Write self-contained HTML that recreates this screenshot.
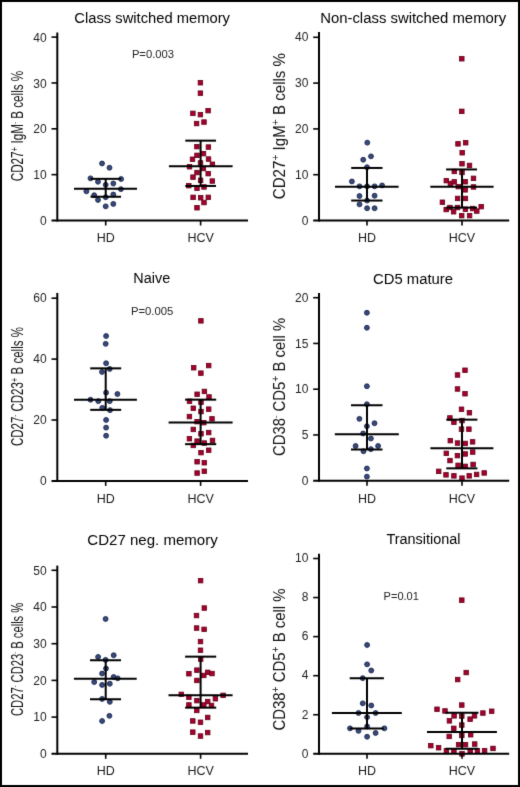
<!DOCTYPE html><html><head><meta charset="utf-8"><style>html,body{margin:0;padding:0;background:#fff;}svg{display:block;}text{font-family:"Liberation Sans", sans-serif;}</style></head><body>
<svg width="520" height="787" viewBox="0 0 520 787">
<rect x="0" y="0" width="520" height="787" fill="#fff"/>
<defs><filter id="soft" x="0" y="0" width="520" height="787" filterUnits="userSpaceOnUse" color-interpolation-filters="sRGB"><feConvolveMatrix order="3" kernelMatrix="0.01000 0.08000 0.01000 0.08000 0.64000 0.08000 0.01000 0.08000 0.01000" divisor="1" edgeMode="duplicate" preserveAlpha="false"/></filter></defs>
<g filter="url(#soft)">
<rect x="1" y="1" width="518" height="785" fill="none" stroke="#000" stroke-width="2"/>
<text x="74.30" y="22.6" font-size="15.3" textLength="155.7" lengthAdjust="spacingAndGlyphs" fill="#000">Class switched memory</text>
<text x="320.20" y="22.7" font-size="15.3" textLength="186.0" lengthAdjust="spacingAndGlyphs" fill="#000">Non-class switched memory</text>
<text x="133.30" y="283.3" font-size="15.3" textLength="36.9" lengthAdjust="spacingAndGlyphs" fill="#000">Naive</text>
<text x="373.00" y="283.8" font-size="15.3" textLength="80.0" lengthAdjust="spacingAndGlyphs" fill="#000">CD5 mature</text>
<text x="87.30" y="544.5" font-size="15.3" textLength="130.4" lengthAdjust="spacingAndGlyphs" fill="#000">CD27 neg. memory</text>
<text x="386.50" y="544.0" font-size="15.3" textLength="74.0" lengthAdjust="spacingAndGlyphs" fill="#000">Transitional</text>
<text x="131.90" y="58.4" font-size="11.5" textLength="42.1" lengthAdjust="spacingAndGlyphs" fill="#222">P=0.003</text>
<text x="130.90" y="315.1" font-size="11.5" textLength="42.4" lengthAdjust="spacingAndGlyphs" fill="#222">P=0.005</text>
<text x="383.60" y="599.8" font-size="11.5" textLength="35.3" lengthAdjust="spacingAndGlyphs" fill="#222">P=0.01</text>
<text transform="translate(23.2,181.3) rotate(-90) scale(0.7450,1)" x="0" y="0" font-size="15.7" fill="#111" xml:space="preserve"><tspan font-size="15.70" dy="0.00">CD27</tspan><tspan font-size="10.68" dy="-5.65">+</tspan><tspan font-size="15.70" dy="5.65"> IgM</tspan><tspan font-size="7.85" dy="-6.59">-</tspan><tspan font-size="15.70" dy="6.59"> B cells %</tspan></text>
<text transform="translate(285.2,199.2) rotate(-90) scale(0.9439,1)" x="0" y="0" font-size="16" fill="#111" xml:space="preserve"><tspan font-size="16.00" dy="0.00">CD27</tspan><tspan font-size="10.88" dy="-5.76">+</tspan><tspan font-size="16.00" dy="5.76"> IgM</tspan><tspan font-size="10.88" dy="-5.76">+</tspan><tspan font-size="16.00" dy="5.76"> B cells %</tspan></text>
<text transform="translate(23.2,446.0) rotate(-90) scale(0.7320,1)" x="0" y="0" font-size="15.7" fill="#111" xml:space="preserve"><tspan font-size="15.70" dy="0.00">CD27</tspan><tspan font-size="7.85" dy="-6.59">-</tspan><tspan font-size="15.70" dy="6.59"> CD23</tspan><tspan font-size="10.68" dy="-5.65">+</tspan><tspan font-size="15.70" dy="5.65"> B cells %</tspan></text>
<text transform="translate(285.2,456.0) rotate(-90) scale(0.9298,1)" x="0" y="0" font-size="16" fill="#111" xml:space="preserve"><tspan font-size="16.00" dy="0.00">CD38</tspan><tspan font-size="8.00" dy="-6.72">-</tspan><tspan font-size="16.00" dy="6.72"> CD5</tspan><tspan font-size="10.88" dy="-5.76">+</tspan><tspan font-size="16.00" dy="5.76"> B cell %</tspan></text>
<text transform="translate(23.2,716.0) rotate(-90) scale(0.7141,1)" x="0" y="0" font-size="15.7" fill="#111" xml:space="preserve"><tspan font-size="15.70" dy="0.00">CD27</tspan><tspan font-size="7.85" dy="-6.59">-</tspan><tspan font-size="15.70" dy="6.59"> CD23</tspan><tspan font-size="7.85" dy="-6.59">-</tspan><tspan font-size="15.70" dy="6.59"> B cells %</tspan></text>
<text transform="translate(285.2,730.6) rotate(-90) scale(0.9341,1)" x="0" y="0" font-size="16" fill="#111" xml:space="preserve"><tspan font-size="16.00" dy="0.00">CD38</tspan><tspan font-size="10.88" dy="-5.76">+</tspan><tspan font-size="16.00" dy="5.76"> CD5</tspan><tspan font-size="10.88" dy="-5.76">+</tspan><tspan font-size="16.00" dy="5.76"> B cell %</tspan></text>
<circle cx="102.05" cy="163.45" r="2.45" fill="#384a78" stroke="#1b254e" stroke-width="0.9"/>
<circle cx="109.5" cy="167.75" r="2.45" fill="#384a78" stroke="#1b254e" stroke-width="0.9"/>
<circle cx="90.5" cy="178.35" r="2.45" fill="#384a78" stroke="#1b254e" stroke-width="0.9"/>
<circle cx="121.1" cy="179.05" r="2.45" fill="#384a78" stroke="#1b254e" stroke-width="0.9"/>
<circle cx="98.0" cy="181.75" r="2.45" fill="#384a78" stroke="#1b254e" stroke-width="0.9"/>
<circle cx="113.3" cy="183.55" r="2.45" fill="#384a78" stroke="#1b254e" stroke-width="0.9"/>
<circle cx="105.7" cy="184.85" r="2.45" fill="#384a78" stroke="#1b254e" stroke-width="0.9"/>
<circle cx="120.9" cy="189.15" r="2.45" fill="#384a78" stroke="#1b254e" stroke-width="0.9"/>
<circle cx="86.4" cy="191.35" r="2.45" fill="#384a78" stroke="#1b254e" stroke-width="0.9"/>
<circle cx="94.2" cy="195.25" r="2.45" fill="#384a78" stroke="#1b254e" stroke-width="0.9"/>
<circle cx="113.3" cy="194.55" r="2.45" fill="#384a78" stroke="#1b254e" stroke-width="0.9"/>
<circle cx="105.7" cy="197.25" r="2.45" fill="#384a78" stroke="#1b254e" stroke-width="0.9"/>
<circle cx="98.0" cy="199.95" r="2.45" fill="#384a78" stroke="#1b254e" stroke-width="0.9"/>
<circle cx="105.7" cy="206.35" r="2.45" fill="#384a78" stroke="#1b254e" stroke-width="0.9"/>
<circle cx="113.3" cy="203.95" r="2.45" fill="#384a78" stroke="#1b254e" stroke-width="0.9"/>
<rect x="198.15" y="80.50" width="4.50" height="4.50" fill="#a6002f" stroke="#600016" stroke-width="0.8"/>
<rect x="198.15" y="90.90" width="4.50" height="4.50" fill="#a6002f" stroke="#600016" stroke-width="0.8"/>
<rect x="205.85" y="108.40" width="4.50" height="4.50" fill="#a6002f" stroke="#600016" stroke-width="0.8"/>
<rect x="190.65" y="111.10" width="4.50" height="4.50" fill="#a6002f" stroke="#600016" stroke-width="0.8"/>
<rect x="198.15" y="112.40" width="4.50" height="4.50" fill="#a6002f" stroke="#600016" stroke-width="0.8"/>
<rect x="194.35" y="121.30" width="4.50" height="4.50" fill="#a6002f" stroke="#600016" stroke-width="0.8"/>
<rect x="201.75" y="119.80" width="4.50" height="4.50" fill="#a6002f" stroke="#600016" stroke-width="0.8"/>
<rect x="194.65" y="144.40" width="4.50" height="4.50" fill="#a6002f" stroke="#600016" stroke-width="0.8"/>
<rect x="206.15" y="144.80" width="4.50" height="4.50" fill="#a6002f" stroke="#600016" stroke-width="0.8"/>
<rect x="201.25" y="151.40" width="4.50" height="4.50" fill="#a6002f" stroke="#600016" stroke-width="0.8"/>
<rect x="194.75" y="153.10" width="4.50" height="4.50" fill="#a6002f" stroke="#600016" stroke-width="0.8"/>
<rect x="190.25" y="157.00" width="4.50" height="4.50" fill="#a6002f" stroke="#600016" stroke-width="0.8"/>
<rect x="206.25" y="156.80" width="4.50" height="4.50" fill="#a6002f" stroke="#600016" stroke-width="0.8"/>
<rect x="198.25" y="160.70" width="4.50" height="4.50" fill="#a6002f" stroke="#600016" stroke-width="0.8"/>
<rect x="210.15" y="162.00" width="4.50" height="4.50" fill="#a6002f" stroke="#600016" stroke-width="0.8"/>
<rect x="187.25" y="164.50" width="4.50" height="4.50" fill="#a6002f" stroke="#600016" stroke-width="0.8"/>
<rect x="201.15" y="166.30" width="4.50" height="4.50" fill="#a6002f" stroke="#600016" stroke-width="0.8"/>
<rect x="194.75" y="170.30" width="4.50" height="4.50" fill="#a6002f" stroke="#600016" stroke-width="0.8"/>
<rect x="205.95" y="171.40" width="4.50" height="4.50" fill="#a6002f" stroke="#600016" stroke-width="0.8"/>
<rect x="190.75" y="174.90" width="4.50" height="4.50" fill="#a6002f" stroke="#600016" stroke-width="0.8"/>
<rect x="198.35" y="178.10" width="4.50" height="4.50" fill="#a6002f" stroke="#600016" stroke-width="0.8"/>
<rect x="210.05" y="178.80" width="4.50" height="4.50" fill="#a6002f" stroke="#600016" stroke-width="0.8"/>
<rect x="186.55" y="183.40" width="4.50" height="4.50" fill="#a6002f" stroke="#600016" stroke-width="0.8"/>
<rect x="194.75" y="186.00" width="4.50" height="4.50" fill="#a6002f" stroke="#600016" stroke-width="0.8"/>
<rect x="201.75" y="184.70" width="4.50" height="4.50" fill="#a6002f" stroke="#600016" stroke-width="0.8"/>
<rect x="190.85" y="195.10" width="4.50" height="4.50" fill="#a6002f" stroke="#600016" stroke-width="0.8"/>
<rect x="198.45" y="195.50" width="4.50" height="4.50" fill="#a6002f" stroke="#600016" stroke-width="0.8"/>
<rect x="206.05" y="195.10" width="4.50" height="4.50" fill="#a6002f" stroke="#600016" stroke-width="0.8"/>
<rect x="201.75" y="200.30" width="4.50" height="4.50" fill="#a6002f" stroke="#600016" stroke-width="0.8"/>
<rect x="194.75" y="205.50" width="4.50" height="4.50" fill="#a6002f" stroke="#600016" stroke-width="0.8"/>
<circle cx="367.3" cy="142.65" r="2.45" fill="#384a78" stroke="#1b254e" stroke-width="0.9"/>
<circle cx="371.0" cy="156.35" r="2.45" fill="#384a78" stroke="#1b254e" stroke-width="0.9"/>
<circle cx="363.2" cy="159.75" r="2.45" fill="#384a78" stroke="#1b254e" stroke-width="0.9"/>
<circle cx="367.0" cy="167.25" r="2.45" fill="#384a78" stroke="#1b254e" stroke-width="0.9"/>
<circle cx="351.9" cy="181.45" r="2.45" fill="#384a78" stroke="#1b254e" stroke-width="0.9"/>
<circle cx="359.5" cy="186.35" r="2.45" fill="#384a78" stroke="#1b254e" stroke-width="0.9"/>
<circle cx="367.1" cy="186.35" r="2.45" fill="#384a78" stroke="#1b254e" stroke-width="0.9"/>
<circle cx="374.6" cy="186.35" r="2.45" fill="#384a78" stroke="#1b254e" stroke-width="0.9"/>
<circle cx="382.1" cy="185.45" r="2.45" fill="#384a78" stroke="#1b254e" stroke-width="0.9"/>
<circle cx="359.5" cy="196.05" r="2.45" fill="#384a78" stroke="#1b254e" stroke-width="0.9"/>
<circle cx="374.6" cy="195.75" r="2.45" fill="#384a78" stroke="#1b254e" stroke-width="0.9"/>
<circle cx="367.1" cy="200.55" r="2.45" fill="#384a78" stroke="#1b254e" stroke-width="0.9"/>
<circle cx="359.5" cy="204.35" r="2.45" fill="#384a78" stroke="#1b254e" stroke-width="0.9"/>
<circle cx="367.1" cy="208.25" r="2.45" fill="#384a78" stroke="#1b254e" stroke-width="0.9"/>
<circle cx="374.6" cy="208.25" r="2.45" fill="#384a78" stroke="#1b254e" stroke-width="0.9"/>
<rect x="459.55" y="56.50" width="4.50" height="4.50" fill="#a6002f" stroke="#600016" stroke-width="0.8"/>
<rect x="459.55" y="109.10" width="4.50" height="4.50" fill="#a6002f" stroke="#600016" stroke-width="0.8"/>
<rect x="455.75" y="141.60" width="4.50" height="4.50" fill="#a6002f" stroke="#600016" stroke-width="0.8"/>
<rect x="463.45" y="140.50" width="4.50" height="4.50" fill="#a6002f" stroke="#600016" stroke-width="0.8"/>
<rect x="459.95" y="150.50" width="4.50" height="4.50" fill="#a6002f" stroke="#600016" stroke-width="0.8"/>
<rect x="459.75" y="161.50" width="4.50" height="4.50" fill="#a6002f" stroke="#600016" stroke-width="0.8"/>
<rect x="467.25" y="163.20" width="4.50" height="4.50" fill="#a6002f" stroke="#600016" stroke-width="0.8"/>
<rect x="452.05" y="169.20" width="4.50" height="4.50" fill="#a6002f" stroke="#600016" stroke-width="0.8"/>
<rect x="459.75" y="170.20" width="4.50" height="4.50" fill="#a6002f" stroke="#600016" stroke-width="0.8"/>
<rect x="471.25" y="176.10" width="4.50" height="4.50" fill="#a6002f" stroke="#600016" stroke-width="0.8"/>
<rect x="444.05" y="178.40" width="4.50" height="4.50" fill="#a6002f" stroke="#600016" stroke-width="0.8"/>
<rect x="448.15" y="181.20" width="4.50" height="4.50" fill="#a6002f" stroke="#600016" stroke-width="0.8"/>
<rect x="452.05" y="179.60" width="4.50" height="4.50" fill="#a6002f" stroke="#600016" stroke-width="0.8"/>
<rect x="462.95" y="179.50" width="4.50" height="4.50" fill="#a6002f" stroke="#600016" stroke-width="0.8"/>
<rect x="456.05" y="184.40" width="4.50" height="4.50" fill="#a6002f" stroke="#600016" stroke-width="0.8"/>
<rect x="462.95" y="187.60" width="4.50" height="4.50" fill="#a6002f" stroke="#600016" stroke-width="0.8"/>
<rect x="471.25" y="184.70" width="4.50" height="4.50" fill="#a6002f" stroke="#600016" stroke-width="0.8"/>
<rect x="455.35" y="196.20" width="4.50" height="4.50" fill="#a6002f" stroke="#600016" stroke-width="0.8"/>
<rect x="463.15" y="196.20" width="4.50" height="4.50" fill="#a6002f" stroke="#600016" stroke-width="0.8"/>
<rect x="440.15" y="200.00" width="4.50" height="4.50" fill="#a6002f" stroke="#600016" stroke-width="0.8"/>
<rect x="443.95" y="207.30" width="4.50" height="4.50" fill="#a6002f" stroke="#600016" stroke-width="0.8"/>
<rect x="447.65" y="205.30" width="4.50" height="4.50" fill="#a6002f" stroke="#600016" stroke-width="0.8"/>
<rect x="451.35" y="209.50" width="4.50" height="4.50" fill="#a6002f" stroke="#600016" stroke-width="0.8"/>
<rect x="455.25" y="205.30" width="4.50" height="4.50" fill="#a6002f" stroke="#600016" stroke-width="0.8"/>
<rect x="463.15" y="207.00" width="4.50" height="4.50" fill="#a6002f" stroke="#600016" stroke-width="0.8"/>
<rect x="470.45" y="206.30" width="4.50" height="4.50" fill="#a6002f" stroke="#600016" stroke-width="0.8"/>
<rect x="474.55" y="208.80" width="4.50" height="4.50" fill="#a6002f" stroke="#600016" stroke-width="0.8"/>
<rect x="478.95" y="204.40" width="4.50" height="4.50" fill="#a6002f" stroke="#600016" stroke-width="0.8"/>
<rect x="459.45" y="213.40" width="4.50" height="4.50" fill="#a6002f" stroke="#600016" stroke-width="0.8"/>
<rect x="467.35" y="213.40" width="4.50" height="4.50" fill="#a6002f" stroke="#600016" stroke-width="0.8"/>
<circle cx="106.1" cy="336.05" r="2.45" fill="#384a78" stroke="#1b254e" stroke-width="0.9"/>
<circle cx="105.7" cy="343.85" r="2.45" fill="#384a78" stroke="#1b254e" stroke-width="0.9"/>
<circle cx="106.1" cy="363.25" r="2.45" fill="#384a78" stroke="#1b254e" stroke-width="0.9"/>
<circle cx="109.7" cy="368.95" r="2.45" fill="#384a78" stroke="#1b254e" stroke-width="0.9"/>
<circle cx="102.0" cy="371.95" r="2.45" fill="#384a78" stroke="#1b254e" stroke-width="0.9"/>
<circle cx="106.1" cy="392.65" r="2.45" fill="#384a78" stroke="#1b254e" stroke-width="0.9"/>
<circle cx="117.4" cy="394.05" r="2.45" fill="#384a78" stroke="#1b254e" stroke-width="0.9"/>
<circle cx="90.5" cy="399.75" r="2.45" fill="#384a78" stroke="#1b254e" stroke-width="0.9"/>
<circle cx="98.3" cy="401.15" r="2.45" fill="#384a78" stroke="#1b254e" stroke-width="0.9"/>
<circle cx="109.7" cy="401.15" r="2.45" fill="#384a78" stroke="#1b254e" stroke-width="0.9"/>
<circle cx="102.3" cy="407.85" r="2.45" fill="#384a78" stroke="#1b254e" stroke-width="0.9"/>
<circle cx="110.0" cy="410.15" r="2.45" fill="#384a78" stroke="#1b254e" stroke-width="0.9"/>
<circle cx="106.1" cy="419.95" r="2.45" fill="#384a78" stroke="#1b254e" stroke-width="0.9"/>
<circle cx="106.1" cy="427.65" r="2.45" fill="#384a78" stroke="#1b254e" stroke-width="0.9"/>
<circle cx="106.1" cy="435.75" r="2.45" fill="#384a78" stroke="#1b254e" stroke-width="0.9"/>
<rect x="198.65" y="318.60" width="4.50" height="4.50" fill="#a6002f" stroke="#600016" stroke-width="0.8"/>
<rect x="206.45" y="363.30" width="4.50" height="4.50" fill="#a6002f" stroke="#600016" stroke-width="0.8"/>
<rect x="191.45" y="365.50" width="4.50" height="4.50" fill="#a6002f" stroke="#600016" stroke-width="0.8"/>
<rect x="198.65" y="370.90" width="4.50" height="4.50" fill="#a6002f" stroke="#600016" stroke-width="0.8"/>
<rect x="194.85" y="392.00" width="4.50" height="4.50" fill="#a6002f" stroke="#600016" stroke-width="0.8"/>
<rect x="202.15" y="389.20" width="4.50" height="4.50" fill="#a6002f" stroke="#600016" stroke-width="0.8"/>
<rect x="206.75" y="394.70" width="4.50" height="4.50" fill="#a6002f" stroke="#600016" stroke-width="0.8"/>
<rect x="187.25" y="399.00" width="4.50" height="4.50" fill="#a6002f" stroke="#600016" stroke-width="0.8"/>
<rect x="198.75" y="400.00" width="4.50" height="4.50" fill="#a6002f" stroke="#600016" stroke-width="0.8"/>
<rect x="191.05" y="406.00" width="4.50" height="4.50" fill="#a6002f" stroke="#600016" stroke-width="0.8"/>
<rect x="206.45" y="406.90" width="4.50" height="4.50" fill="#a6002f" stroke="#600016" stroke-width="0.8"/>
<rect x="198.75" y="409.30" width="4.50" height="4.50" fill="#a6002f" stroke="#600016" stroke-width="0.8"/>
<rect x="187.15" y="414.30" width="4.50" height="4.50" fill="#a6002f" stroke="#600016" stroke-width="0.8"/>
<rect x="209.75" y="416.60" width="4.50" height="4.50" fill="#a6002f" stroke="#600016" stroke-width="0.8"/>
<rect x="194.85" y="419.40" width="4.50" height="4.50" fill="#a6002f" stroke="#600016" stroke-width="0.8"/>
<rect x="201.55" y="420.40" width="4.50" height="4.50" fill="#a6002f" stroke="#600016" stroke-width="0.8"/>
<rect x="191.05" y="427.20" width="4.50" height="4.50" fill="#a6002f" stroke="#600016" stroke-width="0.8"/>
<rect x="206.45" y="430.30" width="4.50" height="4.50" fill="#a6002f" stroke="#600016" stroke-width="0.8"/>
<rect x="198.75" y="431.50" width="4.50" height="4.50" fill="#a6002f" stroke="#600016" stroke-width="0.8"/>
<rect x="187.15" y="436.50" width="4.50" height="4.50" fill="#a6002f" stroke="#600016" stroke-width="0.8"/>
<rect x="194.85" y="438.90" width="4.50" height="4.50" fill="#a6002f" stroke="#600016" stroke-width="0.8"/>
<rect x="210.25" y="438.20" width="4.50" height="4.50" fill="#a6002f" stroke="#600016" stroke-width="0.8"/>
<rect x="191.05" y="443.20" width="4.50" height="4.50" fill="#a6002f" stroke="#600016" stroke-width="0.8"/>
<rect x="202.05" y="440.80" width="4.50" height="4.50" fill="#a6002f" stroke="#600016" stroke-width="0.8"/>
<rect x="206.45" y="448.00" width="4.50" height="4.50" fill="#a6002f" stroke="#600016" stroke-width="0.8"/>
<rect x="198.75" y="450.40" width="4.50" height="4.50" fill="#a6002f" stroke="#600016" stroke-width="0.8"/>
<rect x="194.85" y="459.50" width="4.50" height="4.50" fill="#a6002f" stroke="#600016" stroke-width="0.8"/>
<rect x="202.05" y="460.50" width="4.50" height="4.50" fill="#a6002f" stroke="#600016" stroke-width="0.8"/>
<rect x="194.85" y="470.80" width="4.50" height="4.50" fill="#a6002f" stroke="#600016" stroke-width="0.8"/>
<rect x="202.05" y="469.00" width="4.50" height="4.50" fill="#a6002f" stroke="#600016" stroke-width="0.8"/>
<circle cx="366.9" cy="312.75" r="2.45" fill="#384a78" stroke="#1b254e" stroke-width="0.9"/>
<circle cx="366.9" cy="327.75" r="2.45" fill="#384a78" stroke="#1b254e" stroke-width="0.9"/>
<circle cx="366.9" cy="386.25" r="2.45" fill="#384a78" stroke="#1b254e" stroke-width="0.9"/>
<circle cx="366.9" cy="404.25" r="2.45" fill="#384a78" stroke="#1b254e" stroke-width="0.9"/>
<circle cx="359.4" cy="418.85" r="2.45" fill="#384a78" stroke="#1b254e" stroke-width="0.9"/>
<circle cx="374.5" cy="423.25" r="2.45" fill="#384a78" stroke="#1b254e" stroke-width="0.9"/>
<circle cx="366.9" cy="426.25" r="2.45" fill="#384a78" stroke="#1b254e" stroke-width="0.9"/>
<circle cx="363.1" cy="433.50" r="2.45" fill="#384a78" stroke="#1b254e" stroke-width="0.9"/>
<circle cx="370.9" cy="438.50" r="2.45" fill="#384a78" stroke="#1b254e" stroke-width="0.9"/>
<circle cx="355.6" cy="446.00" r="2.45" fill="#384a78" stroke="#1b254e" stroke-width="0.9"/>
<circle cx="378.1" cy="446.00" r="2.45" fill="#384a78" stroke="#1b254e" stroke-width="0.9"/>
<circle cx="363.5" cy="451.25" r="2.45" fill="#384a78" stroke="#1b254e" stroke-width="0.9"/>
<circle cx="370.9" cy="449.15" r="2.45" fill="#384a78" stroke="#1b254e" stroke-width="0.9"/>
<circle cx="366.9" cy="468.50" r="2.45" fill="#384a78" stroke="#1b254e" stroke-width="0.9"/>
<circle cx="366.9" cy="476.65" r="2.45" fill="#384a78" stroke="#1b254e" stroke-width="0.9"/>
<rect x="462.75" y="368.00" width="4.50" height="4.50" fill="#a6002f" stroke="#600016" stroke-width="0.8"/>
<rect x="455.25" y="372.75" width="4.50" height="4.50" fill="#a6002f" stroke="#600016" stroke-width="0.8"/>
<rect x="455.25" y="386.75" width="4.50" height="4.50" fill="#a6002f" stroke="#600016" stroke-width="0.8"/>
<rect x="462.75" y="391.50" width="4.50" height="4.50" fill="#a6002f" stroke="#600016" stroke-width="0.8"/>
<rect x="459.25" y="407.00" width="4.50" height="4.50" fill="#a6002f" stroke="#600016" stroke-width="0.8"/>
<rect x="467.15" y="410.50" width="4.50" height="4.50" fill="#a6002f" stroke="#600016" stroke-width="0.8"/>
<rect x="447.65" y="415.70" width="4.50" height="4.50" fill="#a6002f" stroke="#600016" stroke-width="0.8"/>
<rect x="451.65" y="420.00" width="4.50" height="4.50" fill="#a6002f" stroke="#600016" stroke-width="0.8"/>
<rect x="459.75" y="418.30" width="4.50" height="4.50" fill="#a6002f" stroke="#600016" stroke-width="0.8"/>
<rect x="459.25" y="426.90" width="4.50" height="4.50" fill="#a6002f" stroke="#600016" stroke-width="0.8"/>
<rect x="466.65" y="426.90" width="4.50" height="4.50" fill="#a6002f" stroke="#600016" stroke-width="0.8"/>
<rect x="448.05" y="438.40" width="4.50" height="4.50" fill="#a6002f" stroke="#600016" stroke-width="0.8"/>
<rect x="455.25" y="440.80" width="4.50" height="4.50" fill="#a6002f" stroke="#600016" stroke-width="0.8"/>
<rect x="462.95" y="441.20" width="4.50" height="4.50" fill="#a6002f" stroke="#600016" stroke-width="0.8"/>
<rect x="470.35" y="439.60" width="4.50" height="4.50" fill="#a6002f" stroke="#600016" stroke-width="0.8"/>
<rect x="444.05" y="451.10" width="4.50" height="4.50" fill="#a6002f" stroke="#600016" stroke-width="0.8"/>
<rect x="455.15" y="453.40" width="4.50" height="4.50" fill="#a6002f" stroke="#600016" stroke-width="0.8"/>
<rect x="463.05" y="451.70" width="4.50" height="4.50" fill="#a6002f" stroke="#600016" stroke-width="0.8"/>
<rect x="470.45" y="449.80" width="4.50" height="4.50" fill="#a6002f" stroke="#600016" stroke-width="0.8"/>
<rect x="447.75" y="458.30" width="4.50" height="4.50" fill="#a6002f" stroke="#600016" stroke-width="0.8"/>
<rect x="455.85" y="463.10" width="4.50" height="4.50" fill="#a6002f" stroke="#600016" stroke-width="0.8"/>
<rect x="463.05" y="464.10" width="4.50" height="4.50" fill="#a6002f" stroke="#600016" stroke-width="0.8"/>
<rect x="470.85" y="462.20" width="4.50" height="4.50" fill="#a6002f" stroke="#600016" stroke-width="0.8"/>
<rect x="436.45" y="469.10" width="4.50" height="4.50" fill="#a6002f" stroke="#600016" stroke-width="0.8"/>
<rect x="443.75" y="472.60" width="4.50" height="4.50" fill="#a6002f" stroke="#600016" stroke-width="0.8"/>
<rect x="451.65" y="473.60" width="4.50" height="4.50" fill="#a6002f" stroke="#600016" stroke-width="0.8"/>
<rect x="459.75" y="475.90" width="4.50" height="4.50" fill="#a6002f" stroke="#600016" stroke-width="0.8"/>
<rect x="466.95" y="473.60" width="4.50" height="4.50" fill="#a6002f" stroke="#600016" stroke-width="0.8"/>
<rect x="474.35" y="472.20" width="4.50" height="4.50" fill="#a6002f" stroke="#600016" stroke-width="0.8"/>
<rect x="481.95" y="470.70" width="4.50" height="4.50" fill="#a6002f" stroke="#600016" stroke-width="0.8"/>
<circle cx="105.6" cy="618.95" r="2.45" fill="#384a78" stroke="#1b254e" stroke-width="0.9"/>
<circle cx="98.1" cy="656.95" r="2.45" fill="#384a78" stroke="#1b254e" stroke-width="0.9"/>
<circle cx="113.7" cy="655.25" r="2.45" fill="#384a78" stroke="#1b254e" stroke-width="0.9"/>
<circle cx="105.6" cy="659.85" r="2.45" fill="#384a78" stroke="#1b254e" stroke-width="0.9"/>
<circle cx="106.0" cy="668.55" r="2.45" fill="#384a78" stroke="#1b254e" stroke-width="0.9"/>
<circle cx="102.1" cy="673.55" r="2.45" fill="#384a78" stroke="#1b254e" stroke-width="0.9"/>
<circle cx="113.6" cy="677.05" r="2.45" fill="#384a78" stroke="#1b254e" stroke-width="0.9"/>
<circle cx="117.7" cy="678.35" r="2.45" fill="#384a78" stroke="#1b254e" stroke-width="0.9"/>
<circle cx="94.2" cy="682.05" r="2.45" fill="#384a78" stroke="#1b254e" stroke-width="0.9"/>
<circle cx="102.1" cy="684.95" r="2.45" fill="#384a78" stroke="#1b254e" stroke-width="0.9"/>
<circle cx="109.8" cy="683.75" r="2.45" fill="#384a78" stroke="#1b254e" stroke-width="0.9"/>
<circle cx="102.1" cy="698.95" r="2.45" fill="#384a78" stroke="#1b254e" stroke-width="0.9"/>
<circle cx="109.8" cy="701.85" r="2.45" fill="#384a78" stroke="#1b254e" stroke-width="0.9"/>
<circle cx="109.4" cy="715.85" r="2.45" fill="#384a78" stroke="#1b254e" stroke-width="0.9"/>
<circle cx="102.1" cy="721.05" r="2.45" fill="#384a78" stroke="#1b254e" stroke-width="0.9"/>
<rect x="198.35" y="578.40" width="4.50" height="4.50" fill="#a6002f" stroke="#600016" stroke-width="0.8"/>
<rect x="202.05" y="605.80" width="4.50" height="4.50" fill="#a6002f" stroke="#600016" stroke-width="0.8"/>
<rect x="194.25" y="613.30" width="4.50" height="4.50" fill="#a6002f" stroke="#600016" stroke-width="0.8"/>
<rect x="194.35" y="625.80" width="4.50" height="4.50" fill="#a6002f" stroke="#600016" stroke-width="0.8"/>
<rect x="201.85" y="627.10" width="4.50" height="4.50" fill="#a6002f" stroke="#600016" stroke-width="0.8"/>
<rect x="198.25" y="639.30" width="4.50" height="4.50" fill="#a6002f" stroke="#600016" stroke-width="0.8"/>
<rect x="198.25" y="648.00" width="4.50" height="4.50" fill="#a6002f" stroke="#600016" stroke-width="0.8"/>
<rect x="198.45" y="656.80" width="4.50" height="4.50" fill="#a6002f" stroke="#600016" stroke-width="0.8"/>
<rect x="194.65" y="667.90" width="4.50" height="4.50" fill="#a6002f" stroke="#600016" stroke-width="0.8"/>
<rect x="186.65" y="671.50" width="4.50" height="4.50" fill="#a6002f" stroke="#600016" stroke-width="0.8"/>
<rect x="201.55" y="673.20" width="4.50" height="4.50" fill="#a6002f" stroke="#600016" stroke-width="0.8"/>
<rect x="205.45" y="670.10" width="4.50" height="4.50" fill="#a6002f" stroke="#600016" stroke-width="0.8"/>
<rect x="209.75" y="671.30" width="4.50" height="4.50" fill="#a6002f" stroke="#600016" stroke-width="0.8"/>
<rect x="194.65" y="678.20" width="4.50" height="4.50" fill="#a6002f" stroke="#600016" stroke-width="0.8"/>
<rect x="179.05" y="692.10" width="4.50" height="4.50" fill="#a6002f" stroke="#600016" stroke-width="0.8"/>
<rect x="220.85" y="693.10" width="4.50" height="4.50" fill="#a6002f" stroke="#600016" stroke-width="0.8"/>
<rect x="186.65" y="695.00" width="4.50" height="4.50" fill="#a6002f" stroke="#600016" stroke-width="0.8"/>
<rect x="194.65" y="698.40" width="4.50" height="4.50" fill="#a6002f" stroke="#600016" stroke-width="0.8"/>
<rect x="213.15" y="696.50" width="4.50" height="4.50" fill="#a6002f" stroke="#600016" stroke-width="0.8"/>
<rect x="205.45" y="699.30" width="4.50" height="4.50" fill="#a6002f" stroke="#600016" stroke-width="0.8"/>
<rect x="201.55" y="702.70" width="4.50" height="4.50" fill="#a6002f" stroke="#600016" stroke-width="0.8"/>
<rect x="186.65" y="702.70" width="4.50" height="4.50" fill="#a6002f" stroke="#600016" stroke-width="0.8"/>
<rect x="209.25" y="703.20" width="4.50" height="4.50" fill="#a6002f" stroke="#600016" stroke-width="0.8"/>
<rect x="194.55" y="708.20" width="4.50" height="4.50" fill="#a6002f" stroke="#600016" stroke-width="0.8"/>
<rect x="205.45" y="715.20" width="4.50" height="4.50" fill="#a6002f" stroke="#600016" stroke-width="0.8"/>
<rect x="190.55" y="718.70" width="4.50" height="4.50" fill="#a6002f" stroke="#600016" stroke-width="0.8"/>
<rect x="198.25" y="720.00" width="4.50" height="4.50" fill="#a6002f" stroke="#600016" stroke-width="0.8"/>
<rect x="190.55" y="729.90" width="4.50" height="4.50" fill="#a6002f" stroke="#600016" stroke-width="0.8"/>
<rect x="205.45" y="730.30" width="4.50" height="4.50" fill="#a6002f" stroke="#600016" stroke-width="0.8"/>
<rect x="198.25" y="733.80" width="4.50" height="4.50" fill="#a6002f" stroke="#600016" stroke-width="0.8"/>
<circle cx="367.1" cy="645.00" r="2.45" fill="#384a78" stroke="#1b254e" stroke-width="0.9"/>
<circle cx="367.1" cy="664.35" r="2.45" fill="#384a78" stroke="#1b254e" stroke-width="0.9"/>
<circle cx="371.25" cy="670.50" r="2.45" fill="#384a78" stroke="#1b254e" stroke-width="0.9"/>
<circle cx="362.75" cy="678.15" r="2.45" fill="#384a78" stroke="#1b254e" stroke-width="0.9"/>
<circle cx="362.75" cy="703.35" r="2.45" fill="#384a78" stroke="#1b254e" stroke-width="0.9"/>
<circle cx="371.25" cy="705.50" r="2.45" fill="#384a78" stroke="#1b254e" stroke-width="0.9"/>
<circle cx="358.5" cy="713.00" r="2.45" fill="#384a78" stroke="#1b254e" stroke-width="0.9"/>
<circle cx="375.6" cy="713.00" r="2.45" fill="#384a78" stroke="#1b254e" stroke-width="0.9"/>
<circle cx="367.1" cy="717.15" r="2.45" fill="#384a78" stroke="#1b254e" stroke-width="0.9"/>
<circle cx="367.1" cy="726.50" r="2.45" fill="#384a78" stroke="#1b254e" stroke-width="0.9"/>
<circle cx="350.0" cy="728.35" r="2.45" fill="#384a78" stroke="#1b254e" stroke-width="0.9"/>
<circle cx="358.5" cy="730.85" r="2.45" fill="#384a78" stroke="#1b254e" stroke-width="0.9"/>
<circle cx="384.4" cy="728.35" r="2.45" fill="#384a78" stroke="#1b254e" stroke-width="0.9"/>
<circle cx="375.6" cy="733.00" r="2.45" fill="#384a78" stroke="#1b254e" stroke-width="0.9"/>
<circle cx="367.1" cy="736.75" r="2.45" fill="#384a78" stroke="#1b254e" stroke-width="0.9"/>
<rect x="459.55" y="597.90" width="4.50" height="4.50" fill="#a6002f" stroke="#600016" stroke-width="0.8"/>
<rect x="463.95" y="670.30" width="4.50" height="4.50" fill="#a6002f" stroke="#600016" stroke-width="0.8"/>
<rect x="455.45" y="677.30" width="4.50" height="4.50" fill="#a6002f" stroke="#600016" stroke-width="0.8"/>
<rect x="459.55" y="702.80" width="4.50" height="4.50" fill="#a6002f" stroke="#600016" stroke-width="0.8"/>
<rect x="434.75" y="707.00" width="4.50" height="4.50" fill="#a6002f" stroke="#600016" stroke-width="0.8"/>
<rect x="442.75" y="708.70" width="4.50" height="4.50" fill="#a6002f" stroke="#600016" stroke-width="0.8"/>
<rect x="480.65" y="710.80" width="4.50" height="4.50" fill="#a6002f" stroke="#600016" stroke-width="0.8"/>
<rect x="489.45" y="709.00" width="4.50" height="4.50" fill="#a6002f" stroke="#600016" stroke-width="0.8"/>
<rect x="451.85" y="713.60" width="4.50" height="4.50" fill="#a6002f" stroke="#600016" stroke-width="0.8"/>
<rect x="459.55" y="713.80" width="4.50" height="4.50" fill="#a6002f" stroke="#600016" stroke-width="0.8"/>
<rect x="472.25" y="713.60" width="4.50" height="4.50" fill="#a6002f" stroke="#600016" stroke-width="0.8"/>
<rect x="447.15" y="718.60" width="4.50" height="4.50" fill="#a6002f" stroke="#600016" stroke-width="0.8"/>
<rect x="467.85" y="716.90" width="4.50" height="4.50" fill="#a6002f" stroke="#600016" stroke-width="0.8"/>
<rect x="459.55" y="722.80" width="4.50" height="4.50" fill="#a6002f" stroke="#600016" stroke-width="0.8"/>
<rect x="451.55" y="726.10" width="4.50" height="4.50" fill="#a6002f" stroke="#600016" stroke-width="0.8"/>
<rect x="446.95" y="734.20" width="4.50" height="4.50" fill="#a6002f" stroke="#600016" stroke-width="0.8"/>
<rect x="459.55" y="733.20" width="4.50" height="4.50" fill="#a6002f" stroke="#600016" stroke-width="0.8"/>
<rect x="468.45" y="732.50" width="4.50" height="4.50" fill="#a6002f" stroke="#600016" stroke-width="0.8"/>
<rect x="428.55" y="743.40" width="4.50" height="4.50" fill="#a6002f" stroke="#600016" stroke-width="0.8"/>
<rect x="436.35" y="745.50" width="4.50" height="4.50" fill="#a6002f" stroke="#600016" stroke-width="0.8"/>
<rect x="456.35" y="742.40" width="4.50" height="4.50" fill="#a6002f" stroke="#600016" stroke-width="0.8"/>
<rect x="463.25" y="742.40" width="4.50" height="4.50" fill="#a6002f" stroke="#600016" stroke-width="0.8"/>
<rect x="472.45" y="741.80" width="4.50" height="4.50" fill="#a6002f" stroke="#600016" stroke-width="0.8"/>
<rect x="490.75" y="746.20" width="4.50" height="4.50" fill="#a6002f" stroke="#600016" stroke-width="0.8"/>
<rect x="444.15" y="748.40" width="4.50" height="4.50" fill="#a6002f" stroke="#600016" stroke-width="0.8"/>
<rect x="451.65" y="748.40" width="4.50" height="4.50" fill="#a6002f" stroke="#600016" stroke-width="0.8"/>
<rect x="459.75" y="751.60" width="4.50" height="4.50" fill="#a6002f" stroke="#600016" stroke-width="0.8"/>
<rect x="467.95" y="748.60" width="4.50" height="4.50" fill="#a6002f" stroke="#600016" stroke-width="0.8"/>
<rect x="475.15" y="748.60" width="4.50" height="4.50" fill="#a6002f" stroke="#600016" stroke-width="0.8"/>
<rect x="482.35" y="748.40" width="4.50" height="4.50" fill="#a6002f" stroke="#600016" stroke-width="0.8"/>
<line x1="74.0" y1="188.85" x2="137.0" y2="188.85" stroke="#000" stroke-width="2"/>
<line x1="90.5" y1="178.85" x2="121.0" y2="178.85" stroke="#000" stroke-width="2"/>
<line x1="90.5" y1="196.75" x2="121.0" y2="196.75" stroke="#000" stroke-width="2"/>
<line x1="105.7" y1="178.85" x2="105.7" y2="196.75" stroke="#000" stroke-width="2"/>
<line x1="168.9" y1="166.25" x2="232.6" y2="166.25" stroke="#000" stroke-width="2"/>
<line x1="185.3" y1="140.65" x2="216.0" y2="140.65" stroke="#000" stroke-width="2"/>
<line x1="185.3" y1="185.95" x2="216.0" y2="185.95" stroke="#000" stroke-width="2"/>
<line x1="200.6" y1="140.65" x2="200.6" y2="185.95" stroke="#000" stroke-width="2"/>
<line x1="335.0" y1="186.75" x2="398.6" y2="186.75" stroke="#000" stroke-width="2"/>
<line x1="351.2" y1="167.95" x2="382.5" y2="167.95" stroke="#000" stroke-width="2"/>
<line x1="351.2" y1="200.55" x2="382.5" y2="200.55" stroke="#000" stroke-width="2"/>
<line x1="367.0" y1="167.95" x2="367.0" y2="200.55" stroke="#000" stroke-width="2"/>
<line x1="430.3" y1="186.65" x2="493.6" y2="186.65" stroke="#000" stroke-width="2"/>
<line x1="446.1" y1="169.45" x2="477.0" y2="169.45" stroke="#000" stroke-width="2"/>
<line x1="446.1" y1="207.65" x2="477.0" y2="207.65" stroke="#000" stroke-width="2"/>
<line x1="462.0" y1="169.45" x2="462.0" y2="207.65" stroke="#000" stroke-width="2"/>
<line x1="74.0" y1="399.75" x2="136.9" y2="399.75" stroke="#000" stroke-width="2"/>
<line x1="90.2" y1="368.35" x2="121.2" y2="368.35" stroke="#000" stroke-width="2"/>
<line x1="90.2" y1="409.85" x2="121.2" y2="409.85" stroke="#000" stroke-width="2"/>
<line x1="105.7" y1="368.35" x2="105.7" y2="409.85" stroke="#000" stroke-width="2"/>
<line x1="168.6" y1="422.45" x2="232.6" y2="422.45" stroke="#000" stroke-width="2"/>
<line x1="185.1" y1="399.65" x2="216.2" y2="399.65" stroke="#000" stroke-width="2"/>
<line x1="185.1" y1="444.15" x2="216.2" y2="444.15" stroke="#000" stroke-width="2"/>
<line x1="200.6" y1="399.65" x2="200.6" y2="444.15" stroke="#000" stroke-width="2"/>
<line x1="334.8" y1="434.15" x2="398.8" y2="434.15" stroke="#000" stroke-width="2"/>
<line x1="351.0" y1="405.25" x2="382.5" y2="405.25" stroke="#000" stroke-width="2"/>
<line x1="351.0" y1="449.5" x2="382.5" y2="449.5" stroke="#000" stroke-width="2"/>
<line x1="367.0" y1="405.25" x2="367.0" y2="449.5" stroke="#000" stroke-width="2"/>
<line x1="430.4" y1="448.25" x2="493.4" y2="448.25" stroke="#000" stroke-width="2"/>
<line x1="446.3" y1="419.65" x2="477.4" y2="419.65" stroke="#000" stroke-width="2"/>
<line x1="446.3" y1="468.35" x2="477.4" y2="468.35" stroke="#000" stroke-width="2"/>
<line x1="462.0" y1="419.65" x2="462.0" y2="468.35" stroke="#000" stroke-width="2"/>
<line x1="73.9" y1="678.65" x2="136.7" y2="678.65" stroke="#000" stroke-width="2"/>
<line x1="90.0" y1="660.25" x2="121.0" y2="660.25" stroke="#000" stroke-width="2"/>
<line x1="90.0" y1="699.25" x2="121.0" y2="699.25" stroke="#000" stroke-width="2"/>
<line x1="105.7" y1="660.25" x2="105.7" y2="699.25" stroke="#000" stroke-width="2"/>
<line x1="168.5" y1="695.35" x2="232.6" y2="695.35" stroke="#000" stroke-width="2"/>
<line x1="185.1" y1="656.65" x2="216.2" y2="656.65" stroke="#000" stroke-width="2"/>
<line x1="185.1" y1="707.65" x2="216.2" y2="707.65" stroke="#000" stroke-width="2"/>
<line x1="200.6" y1="656.65" x2="200.6" y2="707.65" stroke="#000" stroke-width="2"/>
<line x1="331.9" y1="712.95" x2="401.8" y2="712.95" stroke="#000" stroke-width="2"/>
<line x1="349.7" y1="678.3" x2="383.9" y2="678.3" stroke="#000" stroke-width="2"/>
<line x1="349.7" y1="728.55" x2="383.9" y2="728.55" stroke="#000" stroke-width="2"/>
<line x1="367.0" y1="678.3" x2="367.0" y2="728.55" stroke="#000" stroke-width="2"/>
<line x1="427.0" y1="731.95" x2="496.9" y2="731.95" stroke="#000" stroke-width="2"/>
<line x1="445.5" y1="712.85" x2="478.5" y2="712.85" stroke="#000" stroke-width="2"/>
<line x1="445.5" y1="748.75" x2="478.5" y2="748.75" stroke="#000" stroke-width="2"/>
<line x1="462.0" y1="712.85" x2="462.0" y2="748.75" stroke="#000" stroke-width="2"/>
<line x1="57.3" y1="32.5" x2="57.3" y2="221.5" stroke="#000" stroke-width="2"/>
<line x1="51.5" y1="220.5" x2="248" y2="220.5" stroke="#000" stroke-width="2"/>
<text x="46.70" y="225.05" font-size="12" text-anchor="end" fill="#1e1e1e">0</text>
<line x1="51.5" y1="174.65" x2="57.3" y2="174.65" stroke="#000" stroke-width="1.6"/>
<text x="46.70" y="179.20" font-size="12" text-anchor="end" fill="#1e1e1e">10</text>
<line x1="51.5" y1="128.80" x2="57.3" y2="128.80" stroke="#000" stroke-width="1.6"/>
<text x="46.70" y="133.35" font-size="12" text-anchor="end" fill="#1e1e1e">20</text>
<line x1="51.5" y1="82.95" x2="57.3" y2="82.95" stroke="#000" stroke-width="1.6"/>
<text x="46.70" y="87.50" font-size="12" text-anchor="end" fill="#1e1e1e">30</text>
<line x1="51.5" y1="37.10" x2="57.3" y2="37.10" stroke="#000" stroke-width="1.6"/>
<text x="46.70" y="41.65" font-size="12" text-anchor="end" fill="#1e1e1e">40</text>
<line x1="105.7" y1="220.5" x2="105.7" y2="225.5" stroke="#000" stroke-width="1.6"/>
<text x="105.7" y="241.80" font-size="12.5" text-anchor="middle" fill="#1a1a1a">HD</text>
<line x1="200.6" y1="220.5" x2="200.6" y2="225.5" stroke="#000" stroke-width="1.6"/>
<text x="200.6" y="241.80" font-size="12.5" text-anchor="middle" fill="#1a1a1a">HCV</text>
<line x1="319.0" y1="32.1" x2="319.0" y2="221.5" stroke="#000" stroke-width="2"/>
<line x1="313.2" y1="220.5" x2="509.2" y2="220.5" stroke="#000" stroke-width="2"/>
<text x="308.40" y="224.50" font-size="12" text-anchor="end" fill="#1e1e1e">0</text>
<line x1="313.2" y1="174.70" x2="319.0" y2="174.70" stroke="#000" stroke-width="1.6"/>
<text x="308.40" y="178.70" font-size="12" text-anchor="end" fill="#1e1e1e">10</text>
<line x1="313.2" y1="128.90" x2="319.0" y2="128.90" stroke="#000" stroke-width="1.6"/>
<text x="308.40" y="132.90" font-size="12" text-anchor="end" fill="#1e1e1e">20</text>
<line x1="313.2" y1="83.10" x2="319.0" y2="83.10" stroke="#000" stroke-width="1.6"/>
<text x="308.40" y="87.10" font-size="12" text-anchor="end" fill="#1e1e1e">30</text>
<line x1="313.2" y1="37.30" x2="319.0" y2="37.30" stroke="#000" stroke-width="1.6"/>
<text x="308.40" y="41.30" font-size="12" text-anchor="end" fill="#1e1e1e">40</text>
<line x1="367.0" y1="220.5" x2="367.0" y2="225.5" stroke="#000" stroke-width="1.6"/>
<text x="367.0" y="241.80" font-size="12.5" text-anchor="middle" fill="#1a1a1a">HD</text>
<line x1="462.0" y1="220.5" x2="462.0" y2="225.5" stroke="#000" stroke-width="1.6"/>
<text x="462.0" y="241.80" font-size="12.5" text-anchor="middle" fill="#1a1a1a">HCV</text>
<line x1="57.3" y1="292.9" x2="57.3" y2="481.9" stroke="#000" stroke-width="2"/>
<line x1="51.5" y1="480.9" x2="248" y2="480.9" stroke="#000" stroke-width="2"/>
<text x="46.70" y="485.05" font-size="12" text-anchor="end" fill="#1e1e1e">0</text>
<line x1="51.5" y1="420.00" x2="57.3" y2="420.00" stroke="#000" stroke-width="1.6"/>
<text x="46.70" y="424.15" font-size="12" text-anchor="end" fill="#1e1e1e">20</text>
<line x1="51.5" y1="359.10" x2="57.3" y2="359.10" stroke="#000" stroke-width="1.6"/>
<text x="46.70" y="363.25" font-size="12" text-anchor="end" fill="#1e1e1e">40</text>
<line x1="51.5" y1="298.20" x2="57.3" y2="298.20" stroke="#000" stroke-width="1.6"/>
<text x="46.70" y="302.35" font-size="12" text-anchor="end" fill="#1e1e1e">60</text>
<line x1="105.7" y1="480.9" x2="105.7" y2="485.9" stroke="#000" stroke-width="1.6"/>
<text x="105.7" y="502.90" font-size="12.5" text-anchor="middle" fill="#1a1a1a">HD</text>
<line x1="200.6" y1="480.9" x2="200.6" y2="485.9" stroke="#000" stroke-width="1.6"/>
<text x="200.6" y="502.90" font-size="12.5" text-anchor="middle" fill="#1a1a1a">HCV</text>
<line x1="319.0" y1="292.9" x2="319.0" y2="481.7" stroke="#000" stroke-width="2"/>
<line x1="313.2" y1="480.7" x2="509.2" y2="480.7" stroke="#000" stroke-width="2"/>
<text x="308.40" y="484.95" font-size="12" text-anchor="end" fill="#1e1e1e">0</text>
<line x1="313.2" y1="434.95" x2="319.0" y2="434.95" stroke="#000" stroke-width="1.6"/>
<text x="308.40" y="439.20" font-size="12" text-anchor="end" fill="#1e1e1e">5</text>
<line x1="313.2" y1="389.20" x2="319.0" y2="389.20" stroke="#000" stroke-width="1.6"/>
<text x="308.40" y="393.45" font-size="12" text-anchor="end" fill="#1e1e1e">10</text>
<line x1="313.2" y1="343.45" x2="319.0" y2="343.45" stroke="#000" stroke-width="1.6"/>
<text x="308.40" y="347.70" font-size="12" text-anchor="end" fill="#1e1e1e">15</text>
<line x1="313.2" y1="297.70" x2="319.0" y2="297.70" stroke="#000" stroke-width="1.6"/>
<text x="308.40" y="301.95" font-size="12" text-anchor="end" fill="#1e1e1e">20</text>
<line x1="367.0" y1="480.7" x2="367.0" y2="485.7" stroke="#000" stroke-width="1.6"/>
<text x="367.0" y="502.70" font-size="12.5" text-anchor="middle" fill="#1a1a1a">HD</text>
<line x1="462.0" y1="480.7" x2="462.0" y2="485.7" stroke="#000" stroke-width="1.6"/>
<text x="462.0" y="502.70" font-size="12.5" text-anchor="middle" fill="#1a1a1a">HCV</text>
<line x1="57.3" y1="565.6" x2="57.3" y2="754.8" stroke="#000" stroke-width="2"/>
<line x1="51.5" y1="753.8" x2="248" y2="753.8" stroke="#000" stroke-width="2"/>
<text x="46.70" y="758.00" font-size="12" text-anchor="end" fill="#1e1e1e">0</text>
<line x1="51.5" y1="717.10" x2="57.3" y2="717.10" stroke="#000" stroke-width="1.6"/>
<text x="46.70" y="721.30" font-size="12" text-anchor="end" fill="#1e1e1e">10</text>
<line x1="51.5" y1="680.40" x2="57.3" y2="680.40" stroke="#000" stroke-width="1.6"/>
<text x="46.70" y="684.60" font-size="12" text-anchor="end" fill="#1e1e1e">20</text>
<line x1="51.5" y1="643.70" x2="57.3" y2="643.70" stroke="#000" stroke-width="1.6"/>
<text x="46.70" y="647.90" font-size="12" text-anchor="end" fill="#1e1e1e">30</text>
<line x1="51.5" y1="607.00" x2="57.3" y2="607.00" stroke="#000" stroke-width="1.6"/>
<text x="46.70" y="611.20" font-size="12" text-anchor="end" fill="#1e1e1e">40</text>
<line x1="51.5" y1="570.30" x2="57.3" y2="570.30" stroke="#000" stroke-width="1.6"/>
<text x="46.70" y="574.50" font-size="12" text-anchor="end" fill="#1e1e1e">50</text>
<line x1="105.7" y1="753.8" x2="105.7" y2="758.8" stroke="#000" stroke-width="1.6"/>
<text x="105.7" y="775.10" font-size="12.5" text-anchor="middle" fill="#1a1a1a">HD</text>
<line x1="200.6" y1="753.8" x2="200.6" y2="758.8" stroke="#000" stroke-width="1.6"/>
<text x="200.6" y="775.10" font-size="12.5" text-anchor="middle" fill="#1a1a1a">HCV</text>
<line x1="319.0" y1="553.7" x2="319.0" y2="754.8" stroke="#000" stroke-width="2"/>
<line x1="313.2" y1="753.8" x2="509.2" y2="753.8" stroke="#000" stroke-width="2"/>
<text x="308.40" y="757.60" font-size="12" text-anchor="end" fill="#1e1e1e">0</text>
<line x1="313.2" y1="714.74" x2="319.0" y2="714.74" stroke="#000" stroke-width="1.6"/>
<text x="308.40" y="718.54" font-size="12" text-anchor="end" fill="#1e1e1e">2</text>
<line x1="313.2" y1="675.68" x2="319.0" y2="675.68" stroke="#000" stroke-width="1.6"/>
<text x="308.40" y="679.48" font-size="12" text-anchor="end" fill="#1e1e1e">4</text>
<line x1="313.2" y1="636.62" x2="319.0" y2="636.62" stroke="#000" stroke-width="1.6"/>
<text x="308.40" y="640.42" font-size="12" text-anchor="end" fill="#1e1e1e">6</text>
<line x1="313.2" y1="597.56" x2="319.0" y2="597.56" stroke="#000" stroke-width="1.6"/>
<text x="308.40" y="601.36" font-size="12" text-anchor="end" fill="#1e1e1e">8</text>
<line x1="313.2" y1="558.50" x2="319.0" y2="558.50" stroke="#000" stroke-width="1.6"/>
<text x="308.40" y="562.30" font-size="12" text-anchor="end" fill="#1e1e1e">10</text>
<line x1="367.0" y1="753.8" x2="367.0" y2="758.8" stroke="#000" stroke-width="1.6"/>
<text x="367.0" y="775.10" font-size="12.5" text-anchor="middle" fill="#1a1a1a">HD</text>
<line x1="462.0" y1="753.8" x2="462.0" y2="758.8" stroke="#000" stroke-width="1.6"/>
<text x="462.0" y="775.10" font-size="12.5" text-anchor="middle" fill="#1a1a1a">HCV</text>
</g>
</svg></body></html>
